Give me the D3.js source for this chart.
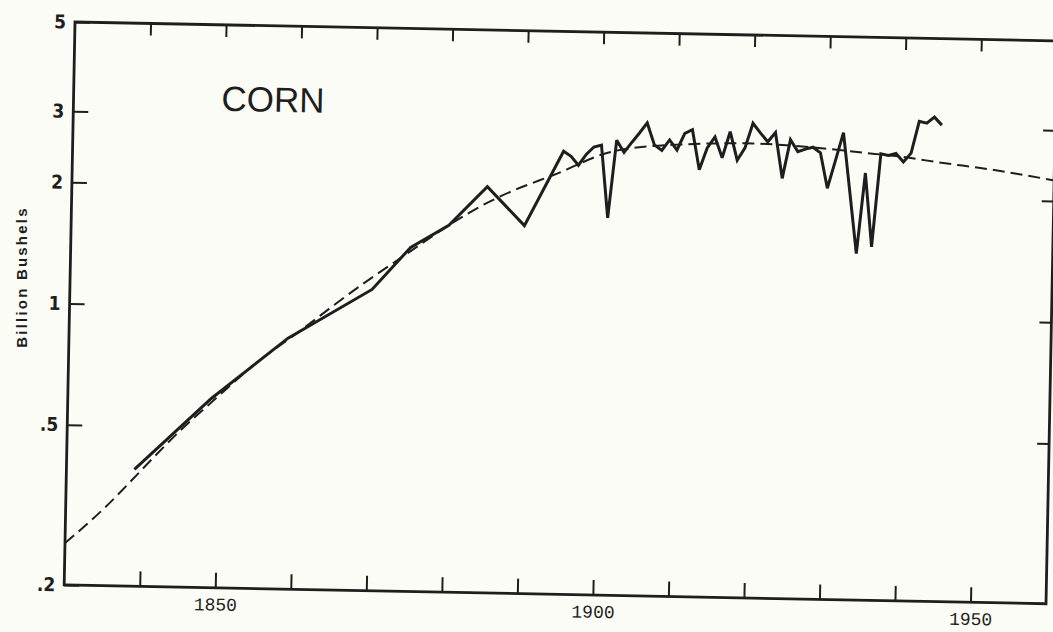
<!DOCTYPE html>
<html>
<head>
<meta charset="utf-8">
<script src="https://cdn.jsdelivr.net/npm/d3@7"></script>
<style>
  body { margin: 0; background: #fcfcf7; }
  svg { display: block; }
</style>
</head>
<body>
<svg id="chart" width="1053" height="632"></svg>
<script>
// Corn production, billion bushels
const cornYears = [1839, 1849, 1859, 1870, 1875, 1880, 1885, 1890,
    1895, 1896, 1897, 1898, 1899, 1900, 1901, 1902, 1903, 1904, 1905, 1906, 1907, 1908, 1909,
    1910, 1911, 1912, 1913, 1914, 1915, 1916, 1917, 1918, 1919, 1920, 1921, 1922, 1923, 1924,
    1925, 1926, 1927, 1928, 1929, 1930, 1931, 1932, 1933, 1934, 1935, 1936, 1937, 1938, 1939,
    1940, 1941, 1942, 1943, 1944, 1945];
const cornValues = [0.39, 0.59, 0.84, 1.12, 1.43, 1.63, 2.04, 1.64,
    2.52, 2.45, 2.33, 2.48, 2.59, 2.62, 1.73, 2.70, 2.52, 2.67, 2.82, 2.99, 2.64, 2.56, 2.72,
    2.57, 2.83, 2.89, 2.30, 2.61, 2.78, 2.47, 2.87, 2.44, 2.62, 3.02, 2.86, 2.72, 2.87, 2.21,
    2.76, 2.58, 2.62, 2.65, 2.57, 2.10, 2.46, 2.89, 2.05, 1.45, 2.30, 1.51, 2.57, 2.55, 2.58,
    2.46, 2.59, 3.11, 3.08, 3.19, 3.05];

// Fitted trend (dashed curve)
const trendYears = [1830, 1835, 1840, 1845, 1850, 1855, 1860, 1865, 1870, 1875, 1880, 1885,
    1890, 1895, 1900, 1905, 1910, 1915, 1920, 1925, 1930, 1935, 1940, 1945, 1950, 1955, 1960];
const trendValues = [0.254, 0.31, 0.39, 0.49, 0.60, 0.73, 0.86, 1.02, 1.20, 1.40, 1.63, 1.86,
    2.06, 2.25, 2.48, 2.60, 2.65, 2.68, 2.69, 2.67, 2.63, 2.58, 2.53, 2.46, 2.40, 2.33, 2.25];

const yTicks = [0.2, 0.5, 1, 2, 3, 5];
const xTicks = d3.range(1840, 1960, 10);
const xLabelled = [1850, 1900, 1950];

const width = 982, height = 563;
const ink = "#1e1e1e";

const svg = d3.select("#chart");

// the scan is tilted about a degree clockwise
const g = svg.append("g")
    .attr("transform", "translate(75,22) rotate(1.1)");

const x = d3.scaleLinear().domain([1830, 1960]).range([0, width]);
const y = d3.scaleLog().domain([0.2, 5]).range([height, 0]);

const fmt = d => d < 1 ? "." + String(d).split(".")[1] : String(d);

// bottom axis
const xb = g.append("g")
    .attr("transform", `translate(0,${height})`)
    .call(d3.axisBottom(x).tickValues(xTicks).tickSize(-15).tickPadding(10)
        .tickFormat(d => xLabelled.includes(d) ? d : ""));
xb.selectAll("text").style("font-family", "'Liberation Mono', monospace").style("font-size", "18px").attr("fill", ink);

// top axis
g.append("g")
    .call(d3.axisTop(x).tickValues(xTicks).tickSize(-12).tickFormat(""));

// left axis
const yl = g.append("g")
    .call(d3.axisLeft(y).tickValues(yTicks).tickSize(-15).tickPadding(9).tickFormat(fmt));
yl.selectAll("text")
    .style("font-family", "'Liberation Sans Narrow', 'DejaVu Sans Condensed', sans-serif")
    .style("font-weight", "bold").style("font-size", "19px").attr("fill", ink);

// right axis
g.append("g")
    .attr("transform", `translate(${width},0)`)
    .call(d3.axisRight(y).tickValues([0.5, 1, 2, 3]).tickSize(-12).tickFormat(""));

g.selectAll(".domain").remove();
g.selectAll(".tick line").attr("stroke", ink).attr("stroke-width", 2);

// frame
g.append("rect")
    .attr("width", width).attr("height", height)
    .attr("fill", "none").attr("stroke", ink).attr("stroke-width", 2.8);

// trend
const trend = trendYears.map((yr, i) => ({ year: yr, value: trendValues[i] }));
g.append("path")
    .datum(trend)
    .attr("fill", "none")
    .attr("stroke", ink)
    .attr("stroke-width", 2)
    .attr("stroke-dasharray", "12,6")
    .attr("d", d3.line().x(d => x(d.year)).y(d => y(d.value)).curve(d3.curveNatural));

// production
const corn = cornYears.map((yr, i) => ({ year: yr, value: cornValues[i] }));
g.append("path")
    .datum(corn)
    .attr("fill", "none")
    .attr("stroke", ink)
    .attr("stroke-width", 3)
    .attr("stroke-linejoin", "miter")
    .attr("stroke-miterlimit", 3)
    .attr("d", d3.line().x(d => x(d.year)).y(d => y(d.value)));

// title inside the plot
g.append("text")
    .attr("x", 148).attr("y", 86)
    .style("font-family", "'Liberation Sans', Arial, sans-serif")
    .style("font-size", "35px")
    .attr("fill", ink)
    .text("CORN");

// y axis title
svg.append("text")
    .attr("transform", "translate(27,277) rotate(-90)")
    .attr("text-anchor", "middle")
    .style("font-family", "'Liberation Sans', Arial, sans-serif")
    .style("font-weight", "bold")
    .style("font-size", "15px")
    .style("letter-spacing", "2.2px")
    .attr("fill", ink)
    .text("Billion Bushels");
</script>
</body>
</html>
